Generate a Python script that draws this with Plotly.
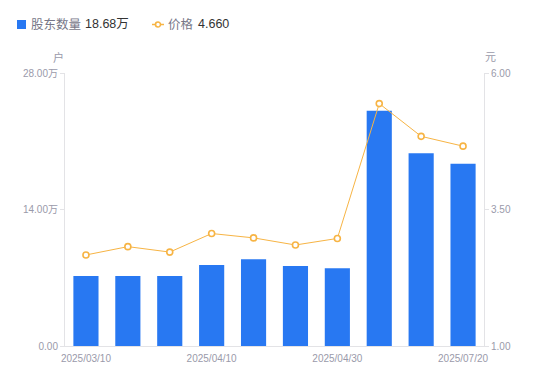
import plotly.graph_objects as go

dates = ["2025/03/10", "2025/03/20", "2025/03/31", "2025/04/10", "2025/04/18",
         "2025/04/25", "2025/04/30", "2025/06/30", "2025/07/10", "2025/07/20"]
holders = [7.18, 7.18, 7.18, 8.30, 8.89, 8.20, 7.97, 24.13, 19.76, 18.68]  # 万户
price = [2.667, 2.82, 2.72, 3.06, 2.98, 2.85, 2.97, 5.44, 4.84, 4.66]
shown_ticks = ["2025/03/10", "2025/04/10", "2025/04/30", "2025/07/20"]
left_ticks = [0, 14, 28]
left_labels = ["0.00", "14.00万", "28.00万"]
right_ticks = [1, 3.5, 6]
right_labels = ["1.00", "3.50", "6.00"]

FONT = "Liberation Sans, Arial, Noto Sans CJK SC, sans-serif"
GRAY = "#9a9aaa"
AXIS = "#e3e3e6"
BLUE = "#2878f2"
ORANGE = "#f7b444"

W, H = 550, 381
L, R, T, B = 65, 66, 73, 35


def cx(x):
    return (x - L) / (W - L - R)


def cy(y):
    return (H - B - y) / (H - T - B)


fig = go.Figure()
fig.add_trace(go.Bar(
    x=dates, y=holders, name="股东数量",
    marker=dict(color=BLUE, line=dict(width=0)), width=0.6, yaxis="y",
))
fig.add_trace(go.Scatter(
    x=dates, y=price, name="价格",
    mode="lines+markers", yaxis="y2",
    line=dict(color=ORANGE, width=1),
    marker=dict(symbol="circle", size=6, color="white", line=dict(color=ORANGE, width=1.6)),
))

shapes = [
    dict(type="rect", xref="paper", yref="paper", x0=cx(17), x1=cx(26), y0=cy(29), y1=cy(20),
         fillcolor=BLUE, line=dict(width=0)),
    dict(type="line", xref="paper", yref="paper", x0=cx(152), x1=cx(164), y0=cy(24.5), y1=cy(24.5),
         line=dict(color=ORANGE, width=1.5)),
    dict(type="circle", xref="paper", yref="paper", x0=cx(155.5), x1=cx(160.5), y0=cy(27), y1=cy(22),
         fillcolor="white", line=dict(color=ORANGE, width=1.6)),
]


def ann(text, x, y, color, size=12.5):
    return dict(text=text, xref="paper", yref="paper", x=cx(x), y=cy(y), showarrow=False,
                xanchor="left", yanchor="middle", font=dict(size=size, color=color, family=FONT))


annotations = [
    ann("股东数量", 29, 24.5, "#777788"),
    ann("18.68万", 83, 24.5, "#333333"),
    ann("价格", 166, 24.5, "#777788"),
    ann("4.660", 196, 24.5, "#333333"),
    dict(text="户", xref="paper", yref="paper", x=cx(58), y=cy(57), showarrow=False,
         xanchor="center", yanchor="middle", font=dict(size=11, color=GRAY)),
    dict(text="元", xref="paper", yref="paper", x=cx(490), y=cy(57), showarrow=False,
         xanchor="center", yanchor="middle", font=dict(size=11, color=GRAY)),
]

fig.update_layout(
    width=W, height=H,
    margin=dict(l=L, r=R, t=T, b=B, autoexpand=False),
    paper_bgcolor="white", plot_bgcolor="white",
    font=dict(family=FONT, size=11, color=GRAY),
    showlegend=False,
    bargap=0.4,
    xaxis=dict(
        type="category", categoryorder="array", categoryarray=dates,
        range=[-0.5, len(dates) - 0.5], autorange=False,
        tickmode="array", tickvals=shown_ticks, ticktext=shown_ticks,
        showgrid=False, showline=True, linecolor=AXIS, linewidth=1,
        ticks="", tickfont=dict(size=10, color=GRAY), zeroline=False,
        ticklabelstandoff=3,
    ),
    yaxis=dict(
        range=[0, 28], tickmode="array", tickvals=left_ticks, ticktext=left_labels,
        showgrid=False, showline=True, linecolor=AXIS, linewidth=1,
        ticks="outside", ticklen=4, tickcolor=AXIS, tickfont=dict(size=10, color=GRAY),
        zeroline=False,
    ),
    yaxis2=dict(
        range=[1, 6], overlaying="y", side="right",
        tickmode="array", tickvals=right_ticks, ticktext=right_labels,
        showgrid=False, showline=True, linecolor=AXIS, linewidth=1,
        ticks="outside", ticklen=4, tickcolor=AXIS, tickfont=dict(size=10, color=GRAY),
        zeroline=False,
    ),
    shapes=shapes,
    annotations=annotations,
)

fig.write_html("out.html", config={"displayModeBar": False},
               post_script="document.body.style.margin='0';")
